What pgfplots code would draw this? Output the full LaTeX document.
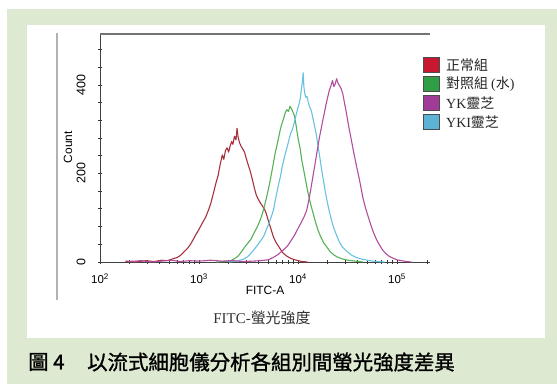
\documentclass[border=0pt]{standalone}
\usepackage{fontspec}
\setmainfont{Liberation Sans}
\newfontfamily\cjk{Noto Sans CJK TC}
\newfontfamily\cjkcap{Noto Sans CJK TC}[FakeBold=1.2]
\newfontfamily\serifl{Liberation Serif}
\usepackage{pgfplots}
\pgfplotsset{compat=1.18}

\definecolor{bggreen}{HTML}{DDE9D0}
\definecolor{cnormal}{HTML}{A8323C}
\definecolor{cwater}{HTML}{55B257}
\definecolor{cyk}{HTML}{B24E9C}
\definecolor{cyki}{HTML}{68C2E2}
\definecolor{fnormal}{HTML}{C8182F}
\definecolor{fwater}{HTML}{2F9E45}
\definecolor{fyk}{HTML}{A03C98}
\definecolor{fyki}{HTML}{5DB3D6}

\begin{document}
\begin{tikzpicture}
\useasboundingbox (0,0) rectangle (557bp,384bp);
\fill[white] (0,0) rectangle (557bp,384bp);
\fill[bggreen] (7bp,0) rectangle (557bp,375bp);
\fill[white] (27bp,46bp) rectangle (545bp,359bp);
\draw[black!30, line width=1.4bp] (57bp,84bp) -- (57bp,351bp);

\begin{axis}[
  name=main,
  at={(100bp,122bp)}, anchor=south west,
  scale only axis, width=330bp, height=228bp,
  xmode=log, xmin=100, xmax=215000,
  ymin=0, ymax=515,
  axis lines=left,
  axis line style={-, draw=black!75, line width=0.9bp},
  xtick={100,1000,10000,100000},
  xticklabels={10\textsuperscript{2},10\textsuperscript{3},10\textsuperscript{4},10\textsuperscript{5}},
  minor xtick={200,300,400,500,600,700,800,900,2000,3000,4000,5000,6000,7000,8000,9000,20000,30000,40000,50000,60000,70000,80000,90000,200000},
  ytick={0,200,400},
  minor ytick={40,80,120,160,240,280,320,360,440,480},
  /pgf/number format/assume math mode=true,
  tick align=center,
  major tick length=4bp, minor tick length=3.5bp,
  every tick/.style={black!80, line width=0.8bp},
  xticklabel style={font=\fontsize{11.5}{12}\selectfont},
  xticklabel shift=6bp,
  yticklabel style={rotate=90, anchor=south, font=\fontsize{12.5}{13}\selectfont},
  yticklabel shift=9bp,
  xlabel={FITC-A},
  xlabel style={font=\fontsize{12}{12}\selectfont, yshift=4bp},
  ylabel={Count},
  ylabel style={font=\fontsize{12}{12}\selectfont, at={(axis description cs:-0.097,0.504)}, anchor=center},
  clip=false,
  every axis plot/.append style={no markers, line width=1.1bp, line join=round},
]
% 正常組
\addplot[cnormal] coordinates {
(180,2) (230,0) (290,3) (350,1) (420,4) (480,3) (540,7) (600,10) (650,15) (700,22)
(760,30) (820,40) (880,52) (930,62) (1000,74) (1080,88) (1160,100) (1240,116)
(1320,134) (1400,156) (1480,178) (1560,196) (1640,222) (1720,242) (1780,232)
(1850,252) (1920,258) (1990,248) (2060,262) (2130,272) (2200,266) (2280,284)
(2360,276) (2420,302) (2480,282) (2560,270) (2650,262) (2750,256) (2880,248)
(3000,234) (3150,218) (3300,204) (3460,186) (3630,166) (3800,150) (4000,140)
(4200,132) (4450,124) (4700,114) (5000,94) (5300,76) (5650,56) (6000,44)
(6500,32) (7000,21) (7600,14) (8300,9) (9000,6) (10000,3) (11000,1) (12500,0)
};
% 對照組 (水)
\addplot[cwater] coordinates {
(1500,0) (1800,1) (2100,3) (2300,8) (2500,14) (2700,24) (2900,34) (3100,42)
(3350,52) (3600,66) (3850,78) (4100,92) (4350,108) (4600,128) (4850,150)
(5100,172) (5350,196) (5600,220) (5850,244) (6100,262) (6350,280) (6600,298)
(6850,312) (7100,322) (7400,336) (7700,344) (8000,340) (8300,352) (8600,346)
(8900,338) (9200,330) (9500,312) (9800,292) (10100,274) (10500,256) (10900,230)
(11300,212) (11750,192) (12300,168) (12900,146) (13500,128) (14200,110)
(15000,90) (15900,72) (17000,56) (18300,42) (19500,34) (21000,24) (23000,16)
(25000,11) (28000,7) (32000,4) (38000,2) (45000,0)
};
% YKI靈芝
\addplot[cyki] coordinates {
(2000,0) (2400,2) (2800,6) (3100,12) (3350,20) (3650,30) (3950,40) (4250,50)
(4500,58) (4800,74) (5100,88) (5400,104) (5650,118) (5900,140) (6150,160)
(6400,178) (6650,194) (6900,214) (7200,232) (7500,248) (7800,262) (8100,276)
(8400,290) (8700,298) (9000,308) (9300,322) (9600,334) (9900,346) (10200,356)
(10500,368) (10800,390) (11100,410) (11250,428) (11450,396) (11700,380)
(12000,372) (12300,374) (12700,360) (13100,350) (13600,342) (14100,326)
(14700,306) (15300,288) (15900,262) (16500,240) (17200,212) (18000,186)
(18800,160) (19700,136) (20700,114) (21800,94) (23000,76) (24500,60) (26000,46)
(28000,34) (31000,24) (35000,15) (39000,10) (45000,6) (53000,3) (62000,1) (75000,0)
};
% YK靈芝
\addplot[cyk] coordinates {
(190,1) (260,3) (330,0) (420,2) (520,4) (650,1) (800,3) (1000,2) (1300,4)
(1700,2) (2200,3) (2800,1) (3500,2) (4200,3) (5000,5) (5600,10) (6300,17)
(7000,26) (7800,36) (8600,50) (9400,64) (10000,76) (10800,90) (11500,102)
(12200,116) (12800,138) (13400,162) (14000,188) (14600,212) (15200,236)
(15800,258) (16400,280) (17000,298) (17700,318) (18400,336) (19100,354)
(19900,372) (20700,388) (21500,398) (22300,410) (23000,396) (23700,402)
(24500,414) (25300,404) (26200,398) (27200,392) (28300,380) (29400,360)
(30600,340) (31800,318) (33000,298) (34500,276) (36000,254) (37700,232)
(39500,210) (41500,188) (43500,164) (45500,142) (48000,122) (50500,106)
(53500,88) (57000,70) (61000,54) (65000,42) (70000,30) (76000,20) (83000,13)
(90000,9) (100000,5) (110000,3) (125000,1) (140000,0)
};
\end{axis}
\draw[black!55, line width=1.1bp] (main.north west) -- (main.north east);

% legend
\foreach \c/\y in {fnormal/319, fwater/300, fyk/281, fyki/262}{
  \fill[\c, draw=black!70, line width=0.6bp] (423bp,\y bp-7.5bp) rectangle (439bp,\y bp+7.5bp);
}
\begin{scope}[every node/.style={anchor=west, inner sep=0pt, text=black!85, font=\fontsize{14}{14}\selectfont}]
\node at (446bp,319bp) {\cjk 正常組};
\node at (446bp,300bp) {\cjk 對照組 \serifl(\cjk 水\serifl)};
\node at (446bp,281bp) {\serifl YK\cjk 靈芝};
\node at (446bp,262bp) {\serifl YKI\cjk 靈芝};
\end{scope}

% captions
\node[text=black!80, font=\fontsize{15}{16}\selectfont] at (262bp,66bp) {\serifl FITC-\cjk 螢光強度};
\node[anchor=west, inner sep=0pt, font=\cjkcap\fontsize{20.5}{21}\selectfont] at (28bp,22bp) {圖 4};
\node[anchor=west, inner sep=0pt, font=\cjkcap\fontsize{20.5}{21}\selectfont] at (87bp,22bp) {以流式細胞儀分析各組別間螢光強度差異};
\end{tikzpicture}
\end{document}
